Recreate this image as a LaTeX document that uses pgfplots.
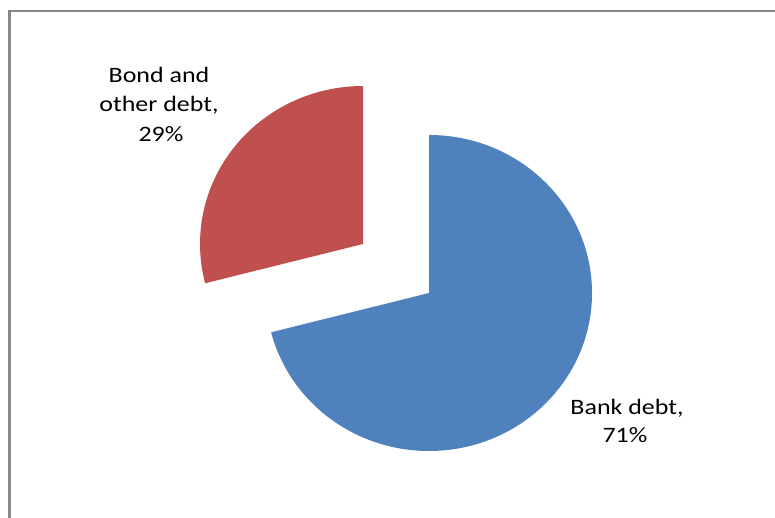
\documentclass[border=0pt]{standalone}
\usepackage{pgfplots}
\pgfplotsset{compat=1.18}
\usepackage{pgfplotstable}
\usepackage{fontspec}
\setmainfont{Carlito}[FakeStretch=1.18]
\definecolor{bankblue}{HTML}{4F81BD}
\definecolor{bondred}{HTML}{C0504D}
\definecolor{framegray}{HTML}{878787}
\pgfplotstableread{
label value
Bank 71
Bond 29
}\debtdata
\pgfplotstablegetelem{0}{value}\of\debtdata \let\bankv\pgfplotsretval
\pgfplotstablegetelem{1}{value}\of\debtdata \let\bondv\pgfplotsretval
\begin{document}
\begin{tikzpicture}
\path[use as bounding box] (0,0) rectangle (775pt,518pt);
\begin{axis}[hide axis, scale only axis, width=775pt, height=518pt,
  xmin=0, xmax=775, ymin=0, ymax=518, clip=false, at={(0,0)}, anchor=south west]
\pgfmathsetmacro\bankend{90-3.6*\bankv}
\pgfmathsetmacro\bondend{90+3.6*\bondv}
\fill[bankblue] (axis cs:429,225) -- (axis cs:429,383)
  arc[start angle=90, end angle=\bankend, x radius=163pt, y radius=158pt] -- cycle;
\fill[bondred] (axis cs:363,274) -- (axis cs:363,432)
  arc[start angle=90, end angle=\bondend, x radius=163pt, y radius=158pt] -- cycle;
\draw[framegray, line width=1.3pt] (axis cs:9,507) -- (axis cs:775,507);
\fill[framegray] (axis cs:8,0) rectangle (axis cs:11,507.6);
\begin{scope}[every node/.style={anchor=base, inner sep=0pt, font=\fontsize{22}{28}\selectfont}]
\node at (axis cs:159,435) {Bond and};
\node at (axis cs:159,406) {other debt,};
\node at (axis cs:161,376) {29\%};
\node at (axis cs:627,103) {Bank debt,};
\node at (axis cs:625,75) {71\%};
\end{scope}
\end{axis}
\end{tikzpicture}
\end{document}
